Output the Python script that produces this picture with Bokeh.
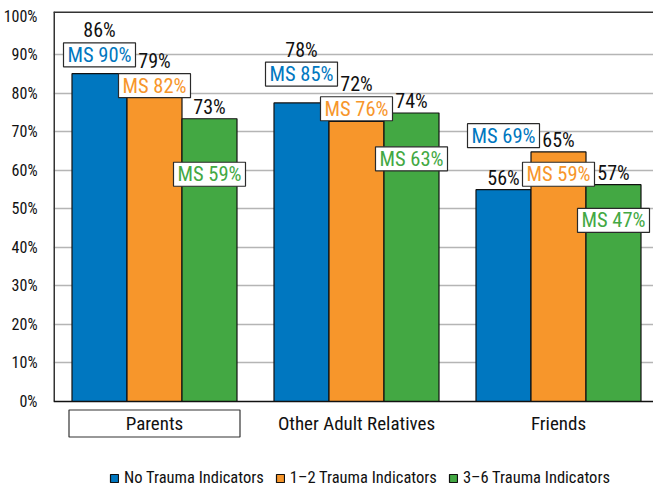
import numpy as np
from bokeh.plotting import figure
from bokeh.models import (ColumnDataSource, FixedTicker, PrintfTickFormatter, Legend,
                          LegendItem, Span, Range1d)
from bokeh.core.properties import value
from bokeh.embed import file_html
from bokeh.resources import INLINE

# ---------------- data ----------------
categories = ["Parents", "Other Adult Relatives", "Friends"]
series_names = ["No Trauma Indicators", "1\u20132 Trauma Indicators", "3\u20136 Trauma Indicators"]
no_trauma = [85.1, 77.5, 55.0]
trauma_1_2 = [79.3, 72.7, 64.8]
trauma_3_6 = [73.4, 74.9, 56.3]
no_trauma_labels = ["86%", "78%", "56%"]
trauma_1_2_labels = ["79%", "72%", "65%"]
trauma_3_6_labels = ["73%", "74%", "57%"]
ms_no_trauma = [90, 85, 69]
ms_trauma_1_2 = [82, 76, 59]
ms_trauma_3_6 = [59, 63, 47]
y_ticks = [0, 10, 20, 30, 40, 50, 60, 70, 80, 90, 100]
highlighted_category = "Parents"

# ---------------- style ----------------
FONT = "Roboto Condensed, DejaVu Sans Condensed, Liberation Sans Narrow, Lato"
colors = ["#0077c0", "#f7962b", "#43a843"]
W, H = 653, 487
LEFT, TOP = 53, 11
FRAME_W = W - LEFT
FRAME_H = H - TOP
PX_PER_CAT = 202.0
ppu = 385.2 / 100.0            # pixels per percentage point
Y_END = 100 + 4.8 / ppu
Y_START = Y_END - FRAME_H / ppu
bar_w = 55.0 / PX_PER_CAT
offsets = [-bar_w, 0.0, bar_w]

p = figure(width=W, height=H,
           x_range=Range1d(-0.5, -0.5 + FRAME_W / PX_PER_CAT),
           y_range=Range1d(Y_START, Y_END),
           x_axis_location=None,
           output_backend="svg", toolbar_location=None,
           min_border_left=LEFT, min_border_top=TOP, min_border_right=0,
           min_border_bottom=0)
p.outline_line_color = None
p.background_fill_color = "white"

# y axis (labels only; the axis line is drawn from 0 to the top)
p.yaxis.ticker = FixedTicker(ticks=y_ticks)
p.yaxis.formatter = PrintfTickFormatter(format="%d%%")
p.yaxis.major_label_text_font = FONT
p.yaxis.major_label_text_font_size = "16px"
p.yaxis.major_label_text_color = "#111111"
p.yaxis.major_label_standoff = 10
p.yaxis.major_tick_line_color = None
p.yaxis.minor_tick_line_color = None
p.yaxis.axis_line_color = None

p.xgrid.visible = False
p.ygrid.ticker = FixedTicker(ticks=y_ticks[1:-1])
p.ygrid.grid_line_color = "#b5b5b5"
p.ygrid.grid_line_width = 1.5

# frame lines: top border, value axis, baseline
p.add_layout(Span(location=Y_END, dimension="width", line_color="#333333", line_width=3))
p.add_layout(Span(location=0, dimension="width", line_color="#111111", line_width=1.5))
p.segment(x0=[-0.5], y0=[0], x1=[-0.5], y1=[Y_END], line_color="#333333", line_width=3)

series_vals = [no_trauma, trauma_1_2, trauma_3_6]
series_labels = [no_trauma_labels, trauma_1_2_labels, trauma_3_6_labels]
series_ms = [ms_no_trauma, ms_trauma_1_2, ms_trauma_3_6]

cat_idx = np.arange(len(categories), dtype=float)
renderers = []
for vals, off, col in zip(series_vals, offsets, colors):
    src = ColumnDataSource(dict(x=cat_idx + off, top=vals))
    r = p.vbar(x="x", top="top", bottom=0, width=bar_w, source=src, fill_color=col,
               line_color="#111111", line_width=1.2)
    renderers.append(r)

# MS comparison boxes and labels, value labels
for vals, labs, ms, off, col in zip(series_vals, series_labels, series_ms, offsets, colors):
    vals = np.array(vals, dtype=float)
    ms = np.array(ms, dtype=float)
    xs = cat_idx + off
    ms_src = ColumnDataSource(dict(x=xs, y=ms, text=["MS %d%%" % m for m in ms]))
    p.rect(x="x", y="y", width=72, height=24, width_units="screen", height_units="screen",
           source=ms_src, fill_color="white", line_color="#2a2a2a", line_width=1.2)
    p.text(x="x", y="y", text="text", source=ms_src, text_font=value(FONT),
           text_font_size="20.5px", text_color=col, text_align="center",
           text_baseline="middle")
    default_y = vals + 12.0 / ppu
    overlap = np.abs(ms - default_y) < 19.0 / ppu
    lab_y = np.where(overlap, ms + 24.5 / ppu, default_y)
    v_src = ColumnDataSource(dict(x=xs, y=lab_y, text=labs))
    p.text(x="x", y="y", text="text", source=v_src, text_font=value(FONT),
           text_font_size="20px", text_color="#111111", text_align="center",
           text_baseline="middle")

# category labels below the baseline
cat_y = -22.0 / ppu
hl = [c == highlighted_category for c in categories]
box_src = ColumnDataSource(dict(x=cat_idx[hl], y=[cat_y] * sum(hl)))
p.rect(x="x", y="y", width=171, height=27, width_units="screen", height_units="screen",
       source=box_src, fill_color="white", line_color="#333333", line_width=1.2)
cat_src = ColumnDataSource(dict(x=cat_idx, y=[cat_y] * len(categories), text=categories))
p.text(x="x", y="y", text="text", source=cat_src, text_font=value(FONT),
       text_font_size="19px", text_color="#111111", text_align="center",
       text_baseline="middle")

legend = Legend(items=[LegendItem(label=n, renderers=[r]) for n, r in zip(series_names, renderers)],
                orientation="horizontal", location=(56, 0))
legend.label_text_font = FONT
legend.label_text_font_size = "16.5px"
legend.label_text_color = "#111111"
legend.glyph_width = 10
legend.glyph_height = 10
legend.label_standoff = 5
legend.spacing = 11
legend.padding = 0
legend.margin = 0
legend.label_height = 18
legend.border_line_color = None
legend.background_fill_alpha = 0
p.add_layout(legend)

open("out.html", "w").write(file_html(p, INLINE))
